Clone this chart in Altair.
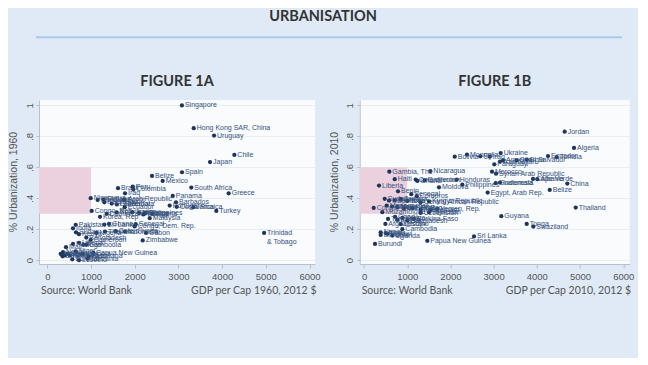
import altair as alt
import pandas as pd

# ---------------- data ----------------
a_country = ["Singapore", "Hong Kong SAR, China", "Uruguay", "Chile", "Japan", "Spain", "Belize",
             "Mexico", "South Africa", "Greece", "Panama", "Barbados", "Portugal", "Costa Rica",
             "Jamaica", "Turkey", "Trinidad\n& Tobago", "Zimbabwe", "Gabon", "Senegal",
             "Congo, Dem. Rep.", "Malaysia", "Congo, Rep", "Korea, Rep", "Nicaragua", "Brazil",
             "Peru", "Colombia", "Iraq", "Syrian Arab Republic", "Egypt", "Ecuador", "Honduras",
             "Paraguay", "El Salvador", "Guatemala", "Jordan", "Tunisia", "Morocco", "Algeria",
             "Philippines", "Dominican Rep.", "Bolivia", "Ghana", "Sri Lanka", "Indonesia",
             "Pakistan", "India", "Sudan", "Kenya", "Bangladesh", "Nigeria", "Thailand",
             "Cote d'Ivoire", "Cameroon", "Cambodia", "Mali", "Haiti", "Liberia", "Togo", "Niger",
             "Papua New Guinea", "Malawi", "Nepal", "Uganda", "Rwanda", "Burundi", "Lesotho",
             "Tanzania", "Ethiopia", "Chad", "Burkina Faso", "Botswana"]
a_gdp = [3080, 3350, 3815, 4280, 3723, 3082, 2396,
         2640, 3295, 4150, 2870, 2945, 2800, 2960,
         3340, 3867, 4960, 2183, 2258, 2023,
         2000, 2343, 1016, 1206, 993, 1618,
         1954, 1968, 1778, 1290, 1755, 1771, 1153,
         1305, 1474, 1590, 1945, 2197, 2100, 2400,
         2250, 1359, 1588, 1412, 1305, 1778,
         650, 588, 657, 725, 892, 1121, 1320,
         1565, 993, 892, 428, 588, 725, 824, 650,
         1053, 307, 359, 458, 513, 572, 725,
         915, 801, 400, 350, 950]
a_urb = [1.00, 0.853, 0.805, 0.680, 0.634, 0.568, 0.544,
         0.512, 0.469, 0.432, 0.415, 0.374, 0.353, 0.345,
         0.342, 0.318, 0.176, 0.127, 0.176, 0.232,
         0.218, 0.271, 0.318, 0.280, 0.400, 0.465,
         0.475, 0.458, 0.432, 0.392, 0.390, 0.342, 0.389,
         0.374, 0.366, 0.360, 0.310, 0.295, 0.305, 0.300,
         0.305, 0.299, 0.308, 0.234, 0.230, 0.185,
         0.228, 0.206, 0.180, 0.168, 0.146, 0.176, 0.185,
         0.187, 0.131, 0.099, 0.084, 0.105, 0.112, 0.099, 0.056,
         0.047, 0.041, 0.052, 0.041, 0.030, 0.005, 0.000,
         0.010, 0.041, 0.030, 0.025, 0.025]

b_country = ["Jordan", "Algeria", "Ecuador", "Tunisia", "El Salvador", "Georgia", "Armenia",
             "Azerbaijan", "Ukraine", "Mongolia", "Bolivia", "Fiji", "Iraq", "Paraguay",
             "Syrian Arab Republic", "Morocco", "Albania", "Cape Verde", "China", "Belize",
             "Thailand", "Egypt, Arab Rep.", "Indonesia", "Guatemala", "Philippines", "Honduras",
             "Moldova", "Nicaragua", "Gambia, The", "Haiti", "Liberia", "Benin", "Cote d'Ivoire",
             "Cameroon", "Ghana", "Senegal", "Comoros", "Congo, Dem. Rep.", "Mozambique",
             "Nigeria", "Sudan", "Mauritania", "Guinea", "Zambia", "Togo",
             "Central African Republic", "Kyrgyz Republic", "Madagascar", "Mali", "Lao PDR",
             "Pakistan", "India", "Vietnam", "Yemen, Rep.", "Uzbekistan", "Tajikistan",
             "Tanzania", "Chad", "Kenya", "Bangladesh", "Burkina Faso", "Eritrea", "Lesotho",
             "Afghanistan", "Cambodia", "Nepal", "Ethiopia", "Malawi", "Uganda", "Niger",
             "Burundi", "Papua New Guinea", "Sri Lanka", "Guyana", "Tonga", "Swaziland"]
b_gdp = [4645, 4861, 4259, 4460, 3766, 3530, 3218,
         3148, 3164, 2384, 2100, 2692, 2910, 3016,
         3056, 2963, 4012, 3912, 4706, 4299,
         4900, 2863, 3148, 3048, 2275, 2146,
         1736, 1535, 586, 711, 347, 787, 1196,
         1404, 1234, 1095, 1220, 224, 424,
         648, 479, 579, 711, 849, 1002,
         1312, 1505, 525, 771, 926,
         1118, 1312, 1544, 1697, 1312, 1505,
         556, 718, 887, 1002, 1157, 771, 849,
         494, 887, 386, 386, 540, 655, 500,
         255, 1465, 2546, 3178, 3766, 3919]
b_urb = [0.830, 0.725, 0.673, 0.665, 0.650, 0.645, 0.645,
         0.637, 0.692, 0.682, 0.669, 0.671, 0.669, 0.619,
         0.559, 0.572, 0.523, 0.525, 0.495, 0.454,
         0.340, 0.437, 0.501, 0.497, 0.488, 0.521,
         0.471, 0.576, 0.572, 0.523, 0.482, 0.445, 0.521,
         0.516, 0.512, 0.426, 0.413, 0.337, 0.310,
         0.346, 0.396, 0.385, 0.387, 0.395, 0.383,
         0.374, 0.379, 0.353, 0.342, 0.335,
         0.335, 0.327, 0.325, 0.331, 0.305, 0.310,
         0.266, 0.280, 0.273, 0.256, 0.266, 0.260, 0.232,
         0.234, 0.200, 0.180, 0.163, 0.170, 0.159, 0.175,
         0.105, 0.125, 0.153, 0.284, 0.234, 0.217]

y_ticks = [0, 0.2, 0.4, 0.6, 0.8, 1.0]
x_ticks = [0, 1000, 2000, 3000, 4000, 5000, 6000]
band_x = [-1000, 1000]
band_y = [0.3, 0.6]

# ---------------- style ----------------
BG = "#dfeaf6"
PLOT_BG = "#f9fbfd"
POINT = "#1a355f"
LABEL = "#34507c"
PINK = "#ebd1de"
GREY = "#555555"
HEAD = "#333333"
TFONT = "Lato"
AFONT = "Liberation Sans"
H = 164


def one(**kw):
    return alt.Data(values=[kw])


def panel(country, gdp, urb, xdom, width, fig, xtitle, ytitle, header=False, filler=False):
    df = pd.DataFrame({"country": country, "gdp": gdp, "urb": urb})
    xs = alt.Scale(domain=xdom, nice=False, zero=False)
    ys = alt.Scale(domain=[-0.025, 1.035], nice=False, zero=False)
    xaxis = alt.Axis(values=x_ticks, title=None, grid=False, format="d", labelFont=AFONT,
                     labelFontSize=9.5, labelColor=GREY, tickColor="#b8c0c8", domainColor="#b8c0c8",
                     tickSize=4, labelPadding=3)
    yaxis = alt.Axis(values=y_ticks, title=None, grid=True, gridColor="#e9eef4", labelFont=AFONT,
                     labelFontSize=9.5, labelColor=GREY, tickColor="#b8c0c8", domainColor="#b8c0c8",
                     tickSize=3, labelPadding=2, labelAngle=270, labelAlign="center",
                     labelBaseline="bottom",
                     labelExpr="datum.value == 0 ? '0' : datum.value == 1 ? '1' : replace(format(datum.value, '.1f'), '0.', '.')")

    band = alt.Chart(pd.DataFrame({"x": [band_x[0]], "x2": [band_x[1]],
                                   "y": [band_y[0]], "y2": [band_y[1]]})).mark_rect(
        color=PINK, clip=True).encode(
        x=alt.X("x:Q", scale=xs, axis=xaxis), x2="x2:Q",
        y=alt.Y("y:Q", scale=ys, axis=yaxis), y2="y2:Q")

    base = alt.Chart(df).encode(x=alt.X("gdp:Q", scale=xs, axis=xaxis),
                                y=alt.Y("urb:Q", scale=ys, axis=yaxis))
    pts = base.mark_circle(size=18, color=POINT, opacity=1)
    lbl = base.mark_text(align="left", baseline="top", dx=3, dy=-4, fontSize=7, font=AFONT,
                         color=LABEL, lineBreak="\n").encode(text="country:N")

    figt = alt.Chart(one(t=fig)).mark_text(font=TFONT, fontSize=14.5, fontWeight="bold",
                                           color=HEAD, align="center", baseline="middle").encode(
        x=alt.value(width / 2), y=alt.value(-17.7), text="t:N")
    src = alt.Chart(one(t="Source: World Bank")).mark_text(
        font=TFONT, fontSize=10.5, color=GREY, align="left", baseline="middle").encode(
        x=alt.value(2), y=alt.value(H + 26.6), text="t:N")
    xt = alt.Chart(one(t=xtitle)).mark_text(
        font=TFONT, fontSize=10.5, color=GREY, align="right", baseline="middle").encode(
        x=alt.value(width + 1.5), y=alt.value(H + 26.6), text="t:N")
    yt = alt.Chart(one(t=ytitle)).mark_text(
        font=AFONT, fontSize=10.5, color=GREY, align="center", baseline="middle", angle=270).encode(
        x=alt.value(-25), y=alt.value(H / 2), text="t:N")

    layers = [band, pts, lbl, figt, src, xt, yt]
    if header:
        ttl = alt.Chart(one(t="URBANISATION")).mark_text(
            font=TFONT, fontSize=14.5, fontWeight="bold", color=HEAD, align="center",
            baseline="middle").encode(x=alt.value(284), y=alt.value(-82.7), text="t:N")
        line = alt.Chart(one(t="")).mark_rule(color="#a9c8ea", strokeWidth=2).encode(
            x=alt.value(-3), x2=alt.value(583), y=alt.value(-62.7))
        layers += [ttl, line]
    if filler:
        fill = alt.Chart(one(t="")).mark_rule(color=BG, strokeWidth=1).encode(
            x=alt.value(0), x2=alt.value(277), y=alt.value(257))
        layers += [fill]
    return alt.layer(*layers).properties(width=width, height=H)


A = panel(a_country, a_gdp, a_urb, [-190, 6125], 276, "FIGURE 1A",
          "GDP per Cap 1960, 2012 $", "% Urbanization, 1960", header=True)
B = panel(b_country, b_gdp, b_urb, [-100, 6150], 270, "FIGURE 1B",
          "GDP per Cap 2010, 2012 $", "% Urbanization, 2010", filler=True)

chart = alt.hconcat(A, B, spacing=44.7, bounds="flush").configure_view(
    fill=PLOT_BG, stroke=None).properties(
    background=BG, padding={"left": 1, "top": 1, "right": 0, "bottom": 0})

chart.save("out.html", embed_options={"renderer": "svg", "actions": False})
